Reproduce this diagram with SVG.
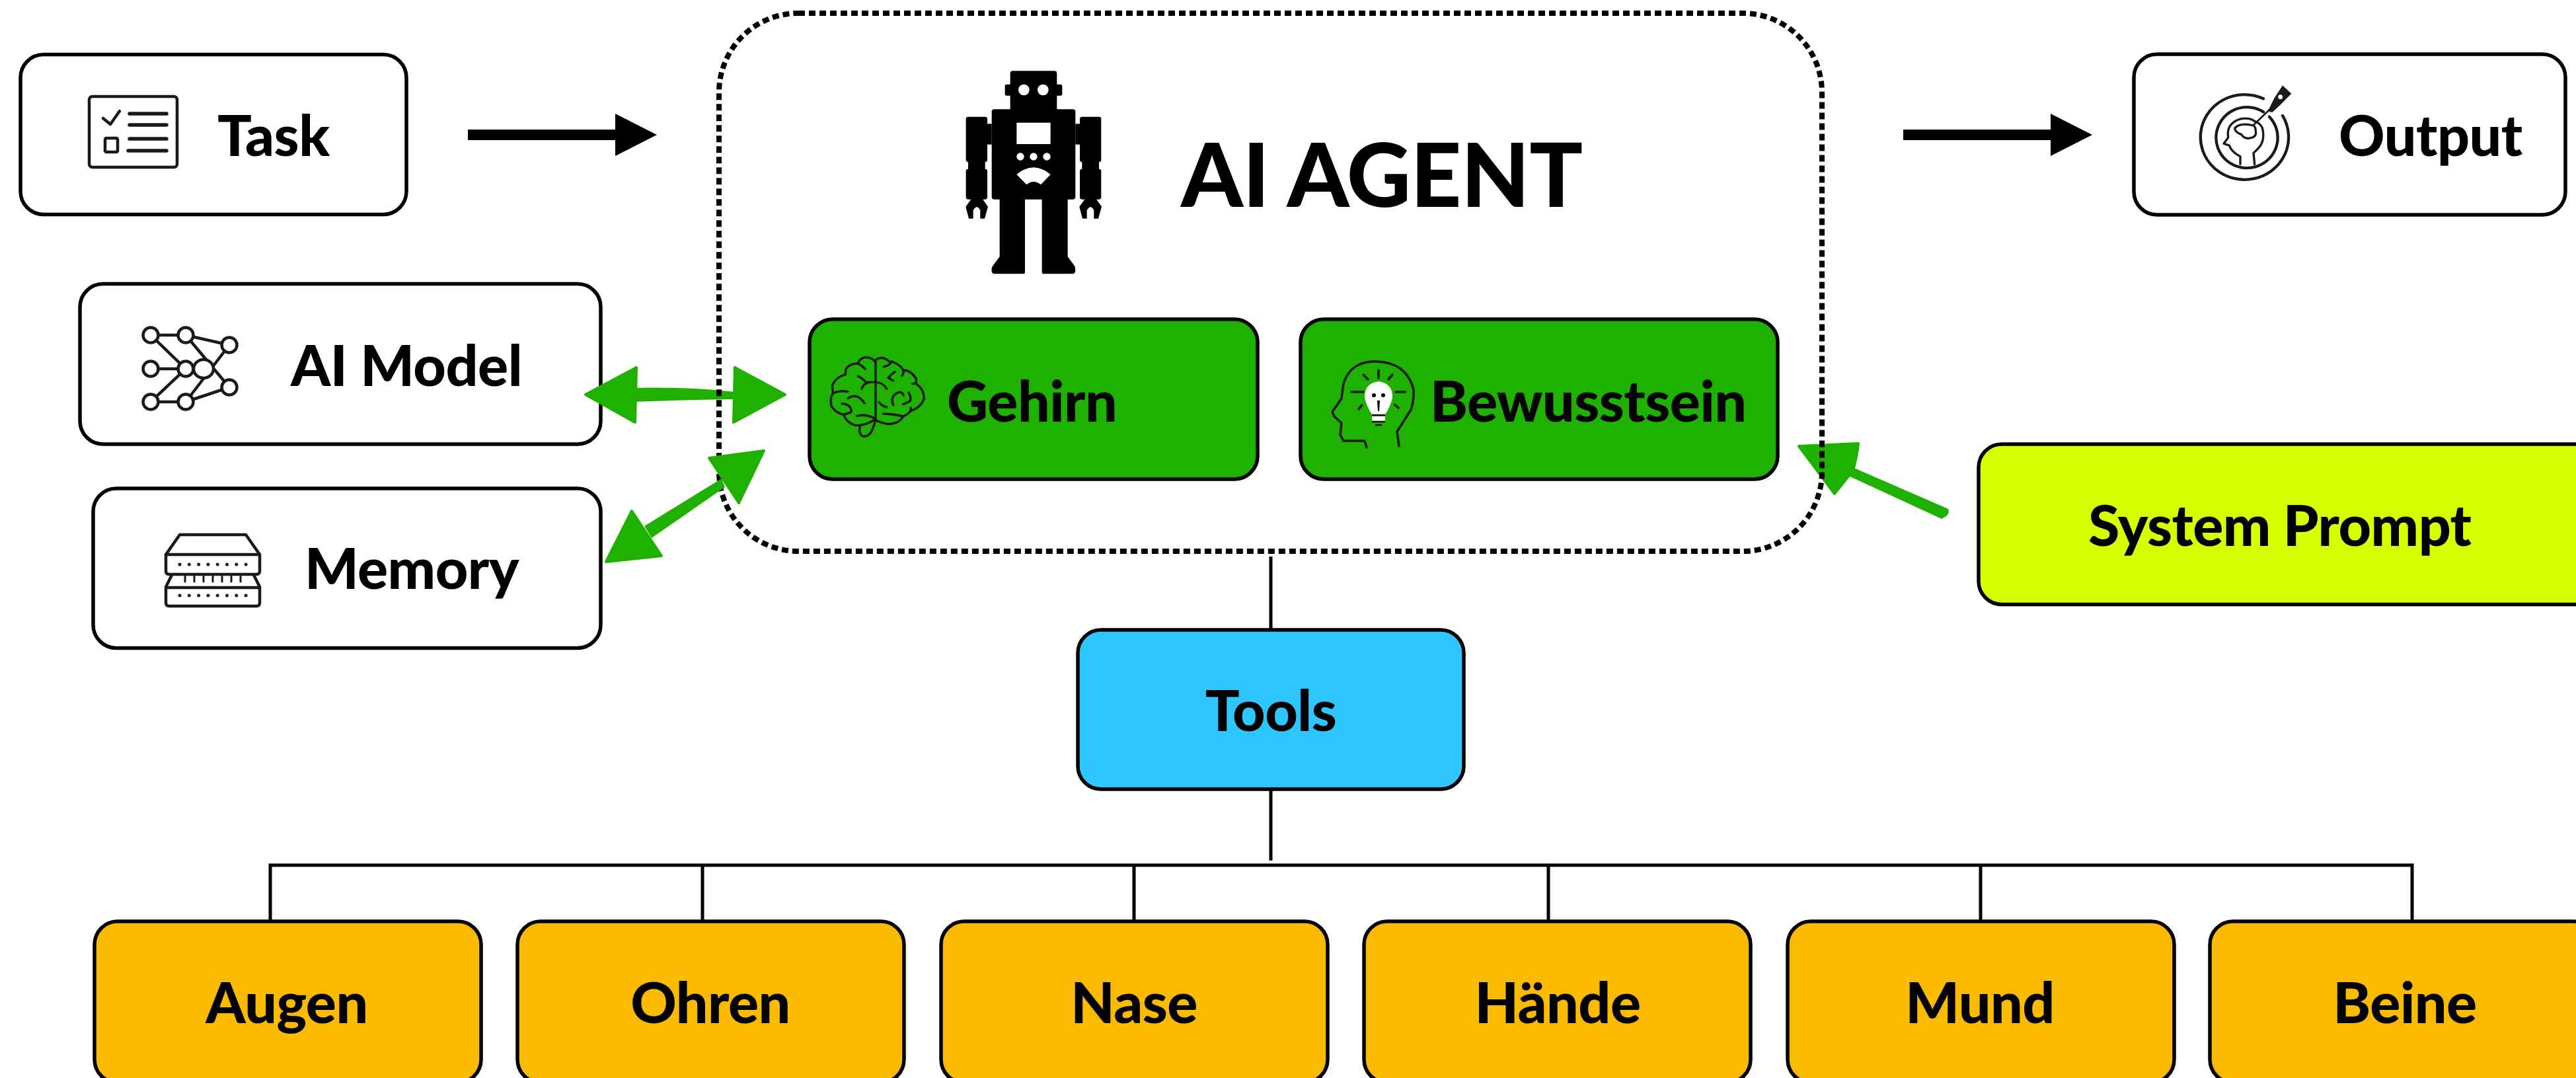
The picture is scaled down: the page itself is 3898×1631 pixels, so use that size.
<svg xmlns="http://www.w3.org/2000/svg" width="3898" height="1631" viewBox="0 0 3898 1631">
<style>
.box{stroke:#000;stroke-width:5.5}
.w{fill:#fff}.g{fill:#1EB100}.o{fill:#F9BA00}.b{fill:#2DC6FF}.y{fill:#D6FF00}
text{font-family:"Lato","Liberation Sans",sans-serif;font-weight:900;font-size:86px;letter-spacing:-.5px;fill:#000}
.m{text-anchor:middle}
.ic{fill:none;stroke:#1a1a1a;stroke-linecap:round;stroke-linejoin:round}
.ln{stroke:#000;stroke-width:5;fill:none}
.ga{fill:#1EB100;stroke:#1EB100;stroke-width:4;stroke-linejoin:round}
.gs{fill:#1EB100}
.ks{fill:#000}
</style>
<rect width="3898" height="1631" fill="#fff"/>

<g id="task">
<rect class="box w" x="31" y="82.5" width="584" height="242" rx="35"/>
<g class="ic" stroke-width="4.5">
<rect x="135" y="146" width="133" height="107" rx="5"/>
<path d="M156 179 L167 188 L181 168"/>
<rect x="159" y="209" width="19" height="21" rx="2"/>
<path stroke-width="5.5" d="M196 172H252M196 189H252M196 210H252M194 228H252"/>
</g>
<text x="329" y="236">Task</text>
</g>

<g id="output">
<rect class="box w" x="3229" y="82" width="653" height="243" rx="35"/>
<g class="ic" stroke-width="13" transform="translate(3310 120) scale(.3333)">
<path d="M345 88 A200 193 0 1 0 432 165"/>
<path d="M345 148 A140 138 0 1 0 372 170"/>
<path stroke-width="10" d="M240 385 L240 350 Q200 330 190 300 L165 292 L185 265 Q175 200 240 180 Q280 172 305 190 Q330 200 340 220 Q355 280 320 315 L300 335 L305 385"/>
<path stroke-width="10" d="M300 210 Q240 195 215 222 Q215 240 245 250 Q260 275 290 265 Q315 260 310 235 Q310 218 300 208"/>
<path stroke-width="8" d="M300 208 L375 135"/>
<path stroke="none" fill="#1a1a1a" d="M365 145 L395 85 L432 28 L472 65 L420 118 L385 150 Z"/>
<circle cx="422" cy="80" r="10" fill="#fff" stroke="none"/>
</g>
<text x="3539" y="236">Output</text>
</g>

<g id="ai-model">
<rect class="box w" x="121" y="429.5" width="788" height="242.5" rx="35"/>
<g class="ic" stroke-width="4.5">
<path d="M228 507H281L347 522M228 507L281 558M228 558H281M228 608L281 558M228 608H281L347 586M281 507L347 586M347 522L281 608"/>
<g fill="#fff">
<circle cx="228" cy="507" r="11.5"/><circle cx="281" cy="507" r="11.5"/><circle cx="347" cy="522" r="11.5"/>
<circle cx="228" cy="558" r="11.5"/><ellipse cx="308" cy="558" rx="15" ry="14"/><circle cx="281" cy="558" r="11.5"/>
<circle cx="347" cy="586" r="11.5"/><circle cx="228" cy="608" r="11.5"/><circle cx="281" cy="608" r="11.5"/>
</g>
</g>
<text x="440" y="584">AI Model</text>
</g>

<g id="memory">
<rect class="box w" x="141" y="739" width="768" height="241.5" rx="35"/>
<g class="ic" stroke-width="4.5">
<path d="M272 809H372L393 839V864Q393 869 388 869H256Q251 869 251 864V839Z"/>
<path d="M251 839H393"/>
<path d="M260 870L251 888V912Q251 917 256 917H388Q393 917 393 912V888L384 870M251 889H393"/>
<path stroke-width="5" stroke-dasharray="0 14.3" d="M272 854H373M272 901H373"/>
<path stroke-width="3" d="M280 872v8M294 872v8M308 872v8M322 872v8M336 872v8M350 872v8M364 872v8"/>
</g>
<text x="461" y="891">Memory</text>
</g>

<g id="connectors-under">
<path class="ga" d="M886 597 L963 556 L961 639 Z"/>
<path class="ga" d="M1188 597 L1112 556 L1110 639 Z"/>
<path class="gs" d="M960 587 Q1040 585 1112 593 L1112 604 Q1040 605 960 608 Z"/>
<path class="ga" stroke-width="2" d="M2722 675 L2812 671 Q2810 690 2804 712 L2776 747 Z"/>
<path class="gs" d="M2801 706 L2948 770 Q2952 779 2938 785 L2791 717 Z"/>
</g>

<g id="ai-agent">
<rect x="1088" y="20" width="1669" height="814" rx="120" ry="120" fill="none" stroke="#000" stroke-width="8" stroke-dasharray="10 6"/>
<g id="robot" transform="translate(1420 90) scale(.3333)">
<rect x="326" y="52" width="212" height="190" rx="12"/>
<rect x="302" y="113" width="260" height="51" rx="8"/>
<rect x="242" y="226" width="380" height="409" rx="12"/>
<rect x="125" y="260" width="97" height="205" rx="10"/>
<rect x="222" y="292" width="20" height="94"/>
<rect x="135" y="460" width="77" height="42"/>
<rect x="125" y="497" width="97" height="138" rx="10"/>
<rect x="642" y="260" width="97" height="205" rx="10"/>
<rect x="622" y="292" width="20" height="94"/>
<rect x="652" y="460" width="77" height="42"/>
<rect x="642" y="497" width="97" height="138" rx="10"/>
<path d="M150 632 L124 668 L138 722 L158 722 L158 685 Q175 655 190 685 L190 722 L210 722 L225 668 L200 632 Z"/>
<path d="M666 632 L640 668 L654 722 L674 722 L674 685 Q691 655 706 685 L706 722 L726 722 L741 668 L716 632 Z"/>
<path d="M278 630 L278 895 L245 940 Q240 950 242 962 Q245 973 255 973 L385 973 Q393 973 393 965 L393 630 Z"/>
<path d="M470 630 L470 965 Q470 973 478 973 L608 973 Q620 973 622 960 L620 940 L587 895 L587 630 Z"/>
<g fill="#fff">
<circle cx="388" cy="138" r="25"/><circle cx="475" cy="138" r="25"/>
<rect x="355" y="287" width="154" height="97"/>
<circle cx="372" cy="441" r="17"/><circle cx="432" cy="441" r="17"/><circle cx="492" cy="441" r="17"/>
<path d="M355 522 Q432 458 509 522 L465 568 Q432 542 400 568 Z"/>
</g>
</g>
<text x="1787" y="313" style="font-size:134px;letter-spacing:-.5px">AI AGENT</text>
</g>

<g id="gehirn">
<rect class="box g" x="1225" y="483" width="678" height="242" rx="35"/>
<g class="ic" stroke-width="10" transform="translate(1230 520) scale(.3333)">
<path d="M285 75V345Q280 370 265 400Q250 425 225 420Q205 405 215 375"/>
<path d="M285 85Q270 60 235 62Q210 70 205 90Q165 90 150 115L148 140Q105 150 88 190L92 225Q75 250 85 285Q105 315 140 322Q150 355 190 370Q235 375 280 345"/>
<path d="M205 90Q225 100 238 115M205 148Q225 155 240 175H285M222 205Q230 180 250 178M285 175Q320 175 335 205M92 225Q120 210 158 218M160 248Q200 220 235 270M132 272Q175 275 175 310L140 322M200 328Q240 318 285 340"/>
<path d="M290 70Q320 55 345 80Q390 85 410 120Q445 120 470 160L468 182Q505 205 505 250Q490 290 445 305Q425 325 410 330Q390 365 340 365Q310 360 280 345"/>
<path d="M322 105Q345 100 360 80M372 128Q355 140 342 155L365 168M405 145Q415 130 410 120M452 182L470 180M365 278Q350 240 385 222Q405 215 412 235M435 222Q450 250 440 262L410 275M300 265Q315 285 335 288M320 318Q370 320 410 330M445 290V305"/>
</g>
<text x="1433" y="638">Gehirn</text>
</g>

<g id="bewusstsein">
<rect class="box g" x="1968" y="483" width="722" height="242" rx="35"/>
<g class="ic" stroke-width="3.5">
<path d="M2068 677L2065 667H2033L2028 658L2030 640L2019 630L2016 623L2030 603L2033 580Q2040 560 2054 553Q2068 546 2084 547Q2105 548 2118 557Q2135 570 2139 590Q2140 605 2135 620L2114 653L2117 675"/>
<path d="M2086 560V572M2063 567L2070 574M2107 567L2101 574M2045 593H2063M2112 593H2126M2056 619L2061 613M2116 617L2110 612"/>
</g>
<path d="M2086 577Q2108 580 2107 602Q2104 615 2096 627H2076Q2068 615 2065 602Q2064 580 2086 577Z" fill="#fff"/>
<rect x="2076" y="630" width="20" height="7" fill="#fff"/>
<path d="M2076 628H2096M2076 638H2096M2081 643H2091" stroke="#111" stroke-width="2.5"/>
<circle cx="2079" cy="598" r="3" class="ks"/><circle cx="2093" cy="598" r="3" class="ks"/>
<path d="M2084 606H2088L2087 622H2085Z" class="ks"/>
<text x="2164" y="638">Bewusstsein</text>
</g>

<g id="system-prompt">
<rect class="box y" x="2994" y="672" width="950" height="242.5" rx="35"/>
<text x="3160" y="826" style="word-spacing:-1px">System Prompt</text>
</g>

<g id="tools">
<rect class="box b" x="1631" y="953" width="584" height="241" rx="35"/>
<text class="m" x="1923" y="1106">Tools</text>
</g>

<g id="augen"><rect class="box o" x="143" y="1394" width="585" height="244" rx="35"/><text class="m" x="434" y="1548">Augen</text></g>
<g id="ohren"><rect class="box o" x="783" y="1394" width="585" height="244" rx="35"/><text class="m" x="1075" y="1548">Ohren</text></g>
<g id="nase"><rect class="box o" x="1424" y="1394" width="585" height="244" rx="35"/><text class="m" x="1716" y="1548">Nase</text></g>
<g id="haende"><rect class="box o" x="2064" y="1394" width="585" height="244" rx="35"/><text class="m" x="2357" y="1548">Hände</text></g>
<g id="mund"><rect class="box o" x="2705" y="1394" width="585" height="244" rx="35"/><text class="m" x="2996" y="1548">Mund</text></g>
<g id="beine"><rect class="box o" x="3344" y="1394" width="585" height="244" rx="35"/><text class="m" x="3639" y="1548">Beine</text></g>

<g id="connectors">
<path class="ks" d="M708 196H931V172L994 204L931 236V212H708Z"/>
<path class="ks" d="M2880 196H3103V172L3166 204L3103 236V212H2880Z"/>
<path class="ln" d="M1923 842V952M1923 1193V1302M409 1393V1309H3650V1393M1063 1309V1393M1716 1309V1393M2343 1309V1393M2997 1309V1393"/>
<path class="ga" d="M1156 682L1073 693L1118 761Z"/>
<path class="gs" d="M1092 724L975 796L986 814L1097 737Z"/>
<path class="ga" d="M956 773L917 850L1001 841Z"/>
</g>
</svg>
